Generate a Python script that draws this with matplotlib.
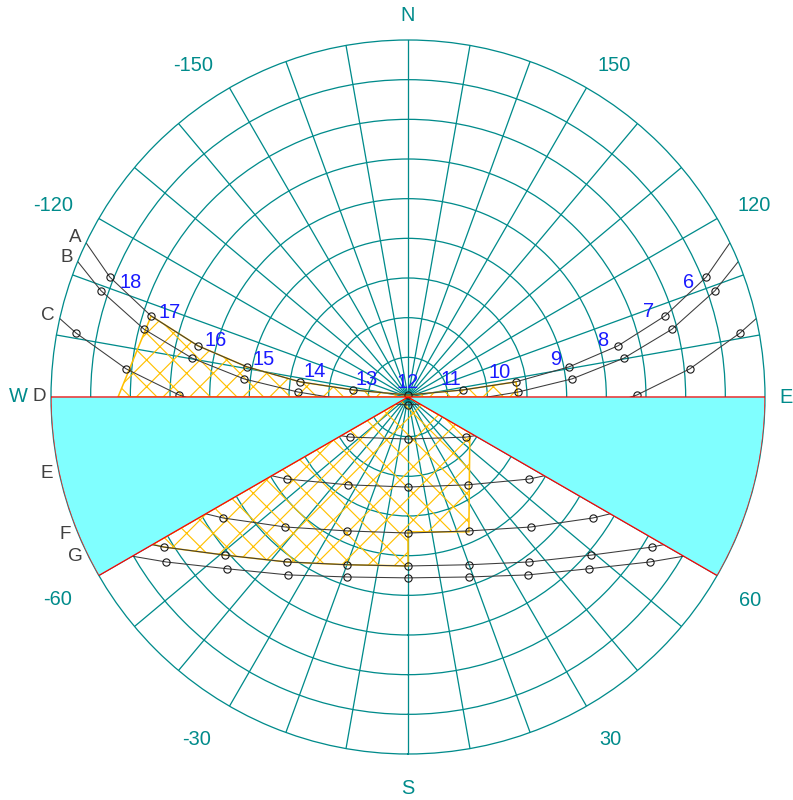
import numpy as np
import matplotlib
matplotlib.use("Agg")
import matplotlib.pyplot as plt

# Sun path points.
# azimuth in degrees from south (+ = east), altitude in degrees
HOURS_FULL = list(range(6, 19))
HOURS_SHORT = list(range(7, 18))

A_az = [111.9, 107.5, 103.7, 100.6, 98.0, 97.3, 180.0, -97.3, -98.0, -100.6, -103.7, -107.5, -111.9]
A_alt = [9.0, 22.1, 35.5, 48.7, 62.5, 76.0, 89.5, 76.0, 62.5, 48.7, 35.5, 22.1, 9.0]
A_rise = 115.6

B_az = [109.1, 104.4, 100.2, 96.3, 92.6, 85.8, 0.0, -85.8, -92.6, -96.3, -100.2, -104.4, -109.1]
B_alt = [8.1, 21.3, 34.7, 48.4, 62.2, 76.1, 88.0, 76.1, 62.2, 48.4, 34.7, 21.3, 8.1]
B_rise = 112.3

C_az = [100.9, 95.7, 90.5, 84.7, 75.2, 55.4, 0.0, -55.4, -75.2, -84.7, -90.5, -95.7, -100.9]
C_alt = [4.8, 18.6, 32.3, 46.0, 59.5, 72.2, 79.4, 72.2, 59.5, 46.0, 32.3, 18.6, 4.8]
C_rise = 102.7

D_az = [84.1, 77.3, 69.1, 55.9, 34.3, 0.0, -34.3, -55.9, -69.1, -77.3, -84.1]
D_alt = [14.5, 28.2, 41.2, 53.1, 63.2, 67.3, 63.2, 53.1, 41.2, 28.2, 14.5]
D_rise = 90.0

E_az = [73.2, 66.2, 56.8, 43.4, 24.5, 0.0, -24.5, -43.4, -56.8, -66.2, -73.2]
E_alt = [11.5, 23.1, 34.3, 44.9, 52.9, 55.7, 52.9, 44.9, 34.3, 23.1, 11.5]
E_rise = 78.0

F_az = [65.5, 58.4, 49.2, 36.3, 20.0, 0.0, -20.0, -36.3, -49.2, -58.4, -65.5]
F_alt = [6.1, 17.8, 29.0, 38.4, 45.0, 47.4, 45.0, 38.4, 29.0, 17.8, 6.1]
F_rise = 68.1

G_az = [62.8, 55.7, 46.5, 34.0, 18.7, 0.0, -18.7, -34.0, -46.5, -55.7, -62.8]
G_alt = [4.6, 16.2, 27.1, 35.9, 42.1, 44.4, 42.1, 35.9, 27.1, 16.2, 4.6]
G_rise = 64.3

CURVES = {
    "A": (A_az, A_alt, A_rise),
    "B": (B_az, B_alt, B_rise),
    "C": (C_az, C_alt, C_rise),
    "D": (D_az, D_alt, D_rise),
    "E": (E_az, E_alt, E_rise),
    "F": (F_az, F_alt, F_rise),
    "G": (G_az, G_alt, G_rise),
}

# hatched periods
UPPER_az = [-90.0, -107.5, -103.7, -100.6, -98.0, -97.3, 180.0, 97.3, 98.0, 90.0]
UPPER_alt = [16.9, 22.1, 35.5, 48.7, 62.5, 76.0, 89.5, 76.0, 62.5, 62.3]
LOWER_az = [0.0, 60.0, 24.3, 0.0, 0.0, -20.0, -36.3, -49.2, -58.4, -60.0]
LOWER_alt = [90.0, 72.0, 52.7, 56.0, 47.4, 45.0, 38.4, 29.0, 17.8, 15.7]

# obstruction mask (azimuth ranges, full altitude)
MASK_from = [60.0, -90.0]
MASK_to = [90.0, -60.0]

AZ_LABELS = [-150, -120, -60, -30, 30, 60, 120, 150]
COMPASS = ["N", "S", "E", "W"]
COMPASS_az = [180, 0, 90, -90]

# layout / styles
TEAL = "#008B8B"
CYAN = "#80FFFF"
HATCH = "#FFC000"
BLUE = "#1a1aff"
DARK = "#3c3c3c"
AZ_LABEL_POS = [(-147.1, 99.6), (-118.4, 101.7), (-59.9, 102.0), (-31.7, 101.4),
                (30.5, 100.3), (59.3, 100.3), (119.0, 99.7), (148.1, 98.3)]
COMPASS_R = [96.3, 98.8, 95.2, 98.3]
HOUR_OFFSETS = {6: (-16, -5), 7: (-15, 4), 8: (-14, 5), 9: (-12, 7), 10: (-15, 8), 11: (-11, 9),
                12: (0, 11), 13: (12, 9), 14: (13, 9), 15: (15, 7), 16: (16, 5), 17: (17, 3), 18: (19, -5)}

plt.rcParams["font.family"] = ["Liberation Sans", "DejaVu Sans"]
plt.rcParams["hatch.color"] = HATCH
plt.rcParams["hatch.linewidth"] = 1.05

DPI = 80
fig = plt.figure(figsize=(793 / DPI, 800 / DPI), dpi=DPI)
ax = fig.add_axes([0.0643, 0.0575, 0.9004, 0.8925], projection="polar")
ax.set_theta_zero_location("S")
ax.set_theta_direction(1)
ax.set_ylim(0, 90)


def th(az):
    return np.deg2rad(np.asarray(az, dtype=float))


def zen(alt):
    return 90 - np.asarray(alt, dtype=float)


# grid
ax.set_xticks(th(np.arange(0, 360, 10)))
ax.set_xticklabels([])
ax.set_yticks(np.arange(10, 90, 10))
ax.set_yticklabels([])
ax.tick_params(size=0)
ax.grid(True, color=TEAL, lw=1.15, ls="-")
ax.spines["polar"].set_color(TEAL)
ax.spines["polar"].set_linewidth(1.15)

# sun paths
for name, (az, alt, rise) in CURVES.items():
    line_az = [rise] + az + [-rise]
    line_alt = [0.0] + alt + [0.0]
    ax.plot(th(line_az), zen(line_alt), "-", color=DARK, lw=0.95, zorder=2.5)
    ax.plot(th(az), zen(alt), "o", ms=6.5, mfc="none", mec="#1a1a1a", mew=1.0, zorder=2.6)
    ax.text(th(-rise), 93, name, color="#404040", fontsize=17, ha="center", va="center")

# hatched areas
for paz, palt in [(UPPER_az, UPPER_alt), (LOWER_az, LOWER_alt)]:
    ax.fill(th(paz), zen(palt), facecolor="none", edgecolor=HATCH, hatch="x", lw=1.4, zorder=2.2)

# obstruction mask
lo = np.array(MASK_from)
hi = np.array(MASK_to)
ax.bar(th((lo + hi) / 2), 90, width=th(hi - lo), bottom=0, color=CYAN,
       edgecolor="red", lw=1.1, zorder=3)

# hour labels on path A
for h, az, alt in zip(HOURS_FULL, A_az, A_alt):
    ax.annotate(str(h), xy=(th(az), zen(alt)), xytext=HOUR_OFFSETS[h], textcoords="offset points",
                ha="center", va="center", color=BLUE, fontsize=18, zorder=4)

# azimuth labels
for a, (pa, pr) in zip(AZ_LABELS, AZ_LABEL_POS):
    ax.text(th(pa), pr, str(a), color=TEAL, fontsize=18, ha="center", va="center")
for c, a, r in zip(COMPASS, COMPASS_az, COMPASS_R):
    ax.text(th(a), r, c, color=TEAL, fontsize=18, ha="center", va="center")

fig.savefig("out.png", dpi=DPI, facecolor="white")
